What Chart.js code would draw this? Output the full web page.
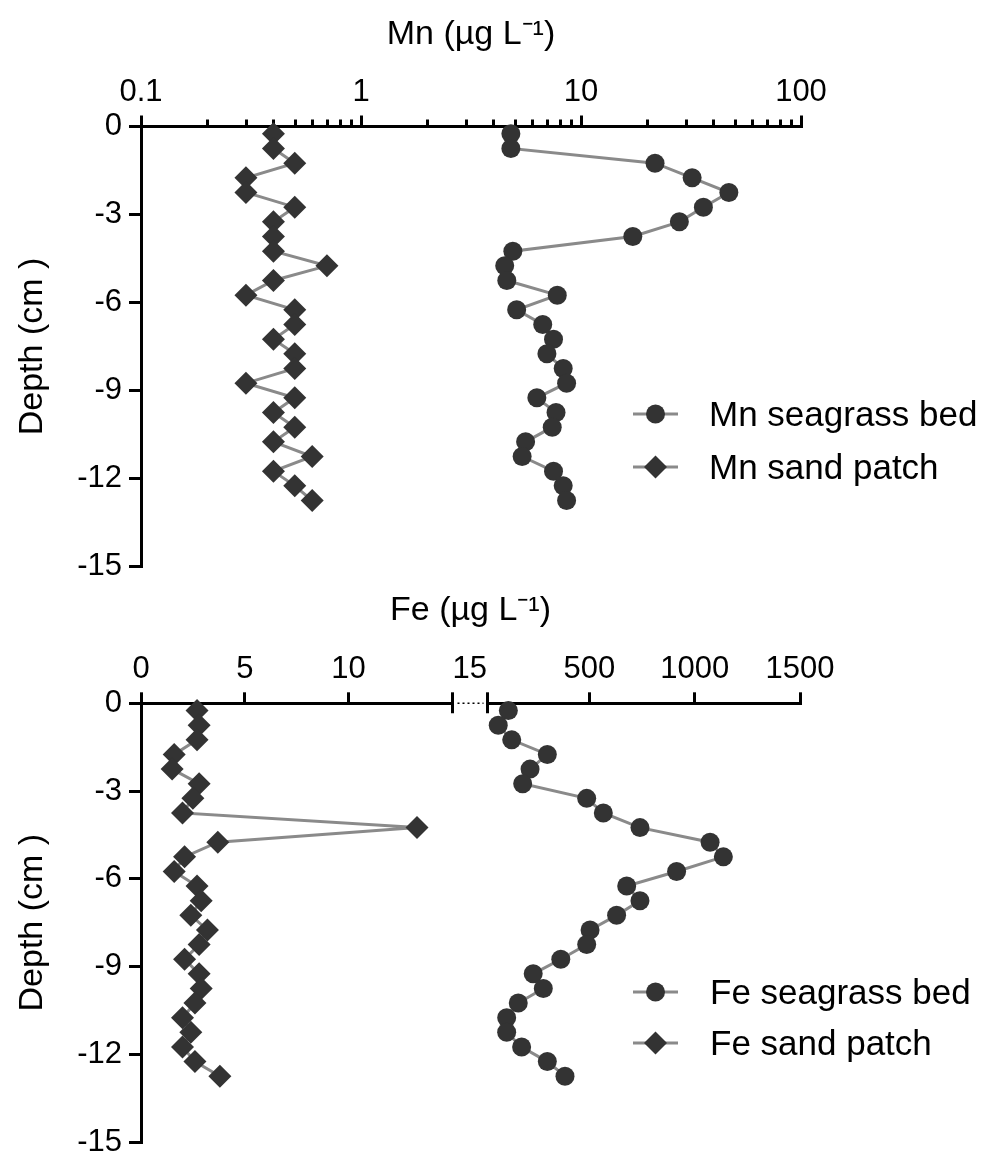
<!DOCTYPE html>
<html>
<head>
<meta charset="utf-8">
<title>Mn and Fe depth profiles</title>
<script src="https://cdn.jsdelivr.net/npm/chart.js@4.4.1/dist/chart.umd.min.js"></script>
<style>
  html, body { margin: 0; padding: 0; background: #fff; overflow: hidden; }
  #wrap { position: relative; width: 988px; height: 1158px; }
  canvas { position: absolute; left: 0; }
  #mnChart { top: 0; }
  #feChart { top: 570px; }
</style>
</head>
<body>
<div id="wrap">
  <canvas id="mnChart" width="988" height="600"></canvas>
  <canvas id="feChart" width="988" height="600"></canvas>
</div>
<script>
/* ===============================
   DATA
================================ */
const depths = [-0.25, -0.75, -1.25, -1.75, -2.25, -2.75, -3.25, -3.75, -4.25, -4.75, -5.25, -5.75, -6.25,
  -6.75, -7.25, -7.75, -8.25, -8.75, -9.25, -9.75, -10.25, -10.75, -11.25, -11.75, -12.25, -12.75];

const mnSeagrass = [4.8, 4.8, 21.7, 32, 47, 36, 28, 17.2, 4.9, 4.5, 4.6, 7.8, 5.1,
  6.7, 7.5, 7.0, 8.3, 8.6, 6.3, 7.7, 7.4, 5.6, 5.4, 7.5, 8.3, 8.6];
const mnSand = [0.4, 0.4, 0.5, 0.3, 0.3, 0.5, 0.4, 0.4, 0.4, 0.7, 0.4, 0.3, 0.5,
  0.5, 0.4, 0.5, 0.5, 0.3, 0.5, 0.4, 0.5, 0.4, 0.6, 0.4, 0.5, 0.6];

const feSeagrass = [115, 67, 131, 300, 218, 183, 487, 566, 740, 1073, 1136, 914, 677,
  740, 629, 503, 487, 364, 233, 281, 162, 107, 107, 178, 300, 384];
const feSand = [2.7, 2.8, 2.7, 1.6, 1.5, 2.8, 2.5, 2.0, 13.3, 3.7, 2.1, 1.6, 2.7,
  2.9, 2.4, 3.2, 2.8, 2.1, 2.8, 2.9, 2.6, 2.0, 2.4, 2.0, 2.6, 3.8];

const depthTicks = [0, -3, -6, -9, -12, -15];
const mnTicks = [0.1, 1, 10, 100];
const mnMinorTicks = [0.2, 0.3, 0.4, 0.5, 0.6, 0.7, 0.8, 0.9, 2, 3, 4, 5, 6, 7, 8, 9,
  20, 30, 40, 50, 60, 70, 80, 90];
const feLowTicks = [0, 5, 10, 15];
const feHighTicks = [15, 500, 1000, 1500];
const feBreakLabel = ["15"];

/* ===============================
   SHARED STYLE
================================ */
const FONT = '"Liberation Sans", Arial, sans-serif';
Chart.defaults.font.family = FONT;
Chart.defaults.color = "#000";

const circleStyle = {
  showLine: true,
  borderColor: "#8a8a8a",
  borderWidth: 3,
  pointStyle: "circle",
  pointRadius: 9.5,
  pointBackgroundColor: "#333",
  pointBorderColor: "#333",
  pointBorderWidth: 0,
  clip: false
};

const diamondStyle = {
  ...circleStyle,
  pointStyle: "rectRot",
  pointRadius: 11.5
};

function toPoints(values) {
  return depths.map((d, i) => ({ x: values[i], y: d }));
}

function tickGrid(len) {
  return {
    display: true,
    drawOnChartArea: false,
    drawTicks: true,
    tickLength: len,
    lineWidth: 3,
    tickWidth: 3,
    color: "#000",
    tickColor: "#000"
  };
}

const axisBorder = { display: true, color: "#000", width: 3 };

function depthAxis() {
  return {
    position: "left",
    min: -15,
    max: 0,
    afterBuildTicks: s => { s.ticks = depthTicks.map(v => ({ value: v })); },
    afterFit: s => { s.width = 141; },
    ticks: { font: { size: 31 }, padding: 7, autoSkip: false },
    grid: tickGrid(12),
    border: axisBorder,
    title: {
      display: true,
      text: "Depth (cm )",
      font: { size: 34 },
      padding: { top: 12, bottom: 0 }
    }
  };
}

function topAxis(extra, height) {
  return Object.assign({
    position: "top",
    afterFit: s => { s.height = height; },
    ticks: { font: { size: 31 }, padding: 4, autoSkip: false, maxRotation: 0 },
    grid: tickGrid(11),
    border: axisBorder
  }, extra);
}

/* ===============================
   PLUGINS
================================ */
// short ticks between the decades of the log axis
const minorTicksPlugin = {
  id: "minorTicks",
  beforeDatasetsDraw(chart, args, opts) {
    if (!opts.values) return;
    const scale = chart.scales[opts.scaleId];
    const ctx = chart.ctx;
    const y = scale.bottom;
    ctx.save();
    ctx.strokeStyle = "#000";
    ctx.lineWidth = 3;
    ctx.beginPath();
    opts.values.forEach(v => {
      const px = Math.round(scale.getPixelForValue(v)) + 0.5;
      ctx.moveTo(px, y);
      ctx.lineTo(px, y - opts.length);
    });
    ctx.stroke();
    ctx.restore();
  }
};

// marks of the broken Fe axis: ticks hanging below and a dotted join
const axisBreakPlugin = {
  id: "axisBreak",
  beforeDatasetsDraw(chart, args, opts) {
    if (!opts.lowId) return;
    const lo = chart.scales[opts.lowId];
    const hi = chart.scales[opts.highId];
    const a = Math.round(lo.getPixelForValue(lo.max)) + 0.5;
    const b = Math.round(hi.getPixelForValue(hi.min)) + 0.5;
    const y = lo.bottom;
    const ctx = chart.ctx;
    ctx.save();
    ctx.strokeStyle = "#000";
    ctx.lineWidth = 3;
    ctx.beginPath();
    ctx.moveTo(a, y);
    ctx.lineTo(a, y + opts.drop);
    ctx.moveTo(b, y);
    ctx.lineTo(b, y + opts.drop);
    ctx.stroke();
    ctx.lineWidth = 1.5;
    ctx.setLineDash([2, 3]);
    ctx.beginPath();
    ctx.moveTo(a + 5, y);
    ctx.lineTo(b - 4, y);
    ctx.stroke();
    ctx.restore();
  }
};

// legend drawn inside the plot, right side
const insetLegendPlugin = {
  id: "insetLegend",
  afterDatasetsDraw(chart, args, opts) {
    if (!opts.rows) return;
    const ctx = chart.ctx;
    chart.data.datasets.forEach((ds, i) => {
      const y = opts.rows[i];
      ctx.save();
      ctx.strokeStyle = ds.borderColor;
      ctx.lineWidth = ds.borderWidth;
      ctx.beginPath();
      ctx.moveTo(opts.lineFrom, y);
      ctx.lineTo(opts.lineTo, y);
      ctx.stroke();
      ctx.fillStyle = ds.pointBackgroundColor;
      ctx.strokeStyle = ds.pointBorderColor;
      Chart.helpers.drawPoint(ctx, {
        pointStyle: ds.pointStyle,
        radius: ds.pointRadius,
        rotation: 0,
        borderWidth: 0
      }, (opts.lineFrom + opts.lineTo) / 2, y);
      ctx.fillStyle = "#000";
      ctx.font = "35px " + FONT;
      ctx.textAlign = "left";
      ctx.textBaseline = "middle";
      ctx.fillText(ds.label, opts.textX, y + 2);
      ctx.restore();
    });
  }
};

/* ===============================
   Mn PANEL
================================ */
new Chart(document.getElementById("mnChart"), {
  type: "scatter",
  data: {
    datasets: [
      { label: "Mn seagrass bed", data: toPoints(mnSeagrass), ...circleStyle },
      { label: "Mn sand patch", data: toPoints(mnSand), ...diamondStyle }
    ]
  },
  options: {
    responsive: false,
    animation: false,
    devicePixelRatio: 1,
    layout: { padding: { left: 0, right: 187, top: 0, bottom: 33.5 } },
    plugins: {
      legend: { display: false },
      tooltip: { enabled: false },
      title: {
        display: true,
        fullSize: false,
        text: "Mn (µg L⁻¹)",
        color: "#000",
        font: { size: 34, weight: "normal" },
        padding: { top: 14, bottom: 0 }
      },
      minorTicks: { scaleId: "x", values: mnMinorTicks, length: 7 },
      insetLegend: { rows: [414, 467], lineFrom: 633, lineTo: 678, textX: 709 }
    },
    scales: {
      x: topAxis({
        type: "logarithmic",
        min: 0.1,
        max: 100,
        afterBuildTicks: s => { s.ticks = mnTicks.map(v => ({ value: v })); }
      }, 71.7),
      y: depthAxis()
    }
  },
  plugins: [minorTicksPlugin, insetLegendPlugin]
});

/* ===============================
   Fe PANEL (broken x axis)
================================ */
const feHiddenFirst = v => (v === 15 ? "" : String(v));

new Chart(document.getElementById("feChart"), {
  type: "scatter",
  data: {
    datasets: [
      { label: "Fe seagrass bed", data: toPoints(feSeagrass), xAxisID: "xR", ...circleStyle },
      { label: "Fe sand patch", data: toPoints(feSand), xAxisID: "xL", ...diamondStyle }
    ]
  },
  options: {
    responsive: false,
    animation: false,
    devicePixelRatio: 1,
    layout: { padding: { left: 0, right: 188, top: 0, bottom: 28 } },
    plugins: {
      legend: { display: false },
      tooltip: { enabled: false },
      title: {
        display: true,
        fullSize: false,
        text: "Fe (µg L⁻¹)",
        color: "#000",
        font: { size: 34, weight: "normal" },
        padding: { top: 20.6, bottom: 0 }
      },
      axisBreak: { lowId: "xL", highId: "xR", drop: 10 },
      insetLegend: { rows: [422, 473], lineFrom: 633, lineTo: 678, textX: 710 }
    },
    scales: {
      xL: topAxis({
        type: "linear",
        stack: "fe",
        stackWeight: 311.3,
        weight: 3,
        min: 0,
        max: 15,
        afterBuildTicks: s => { s.ticks = feLowTicks.map(v => ({ value: v })); },
        ticks: { font: { size: 31 }, padding: 4, autoSkip: false, maxRotation: 0, callback: feHiddenFirst }
      }, 71.9),
      xGap: topAxis({
        type: "linear",
        stack: "fe",
        stackWeight: 35,
        weight: 2,
        min: 0,
        max: 1,
        afterBuildTicks: s => { s.ticks = [{ value: 0.5 }]; },
        ticks: { font: { size: 31 }, padding: 4, autoSkip: false, maxRotation: 0, callback: () => feBreakLabel[0] },
        grid: { display: false, drawTicks: true, tickLength: 11 },
        border: { display: false }
      }, 71.9),
      xR: topAxis({
        type: "linear",
        stack: "fe",
        stackWeight: 312.7,
        weight: 1,
        min: 15,
        max: 1500,
        afterBuildTicks: s => { s.ticks = feHighTicks.map(v => ({ value: v })); },
        ticks: { font: { size: 31 }, padding: 4, autoSkip: false, maxRotation: 0, callback: feHiddenFirst }
      }, 71.9),
      y: depthAxis()
    }
  },
  plugins: [axisBreakPlugin, insetLegendPlugin]
});
</script>
</body>
</html>
